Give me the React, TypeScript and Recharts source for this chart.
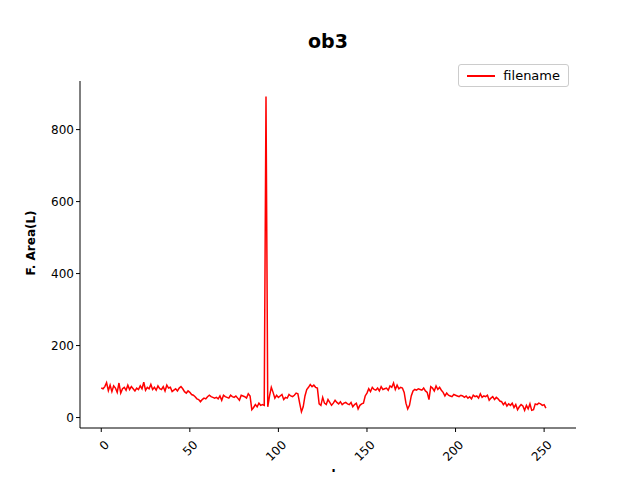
import React from "react";
import { LineChart, Line, XAxis, YAxis, Legend } from "recharts";

const values: number[] = [
  82, 80, 86, 97, 75, 90, 72, 88, 82, 70, 96, 68, 80, 84, 76, 90, 78, 86, 80, 74,
  82, 78, 88, 80, 98, 76, 84, 80, 92, 78, 84, 76, 88, 80, 78, 86, 74, 90, 82, 84,
  72, 76, 80, 74, 82, 86, 80, 72, 68, 74, 70, 64, 62, 58, 52, 50, 44, 50, 54, 52,
  58, 62, 58, 56, 54, 56, 52, 60, 48, 62, 58, 56, 54, 62, 58, 56, 60, 54, 48, 62,
  60, 58, 54, 66, 60, 22, 28, 36, 30, 40, 34, 36, 34, 892, 30, 60, 84, 70, 54, 62,
  56, 60, 64, 50, 56, 54, 64, 60, 58, 62, 68, 66, 40, 16, 30, 60, 78, 84, 92, 86,
  90, 84, 82, 38, 34, 56, 40, 36, 50, 42, 34, 40, 48, 42, 38, 44, 36, 40, 42, 38,
  36, 42, 30, 36, 40, 24, 34, 38, 40, 60, 68, 80, 72, 84, 78, 76, 82, 74, 86, 78,
  80, 82, 76, 88, 84, 96, 78, 90, 80, 84, 82, 70, 40, 24, 34, 60, 74, 78, 76, 80,
  78, 76, 82, 74, 70, 50, 86, 82, 74, 88, 78, 84, 76, 70, 60, 68, 62, 60, 58, 64,
  62, 60, 58, 62, 60, 56, 60, 54, 58, 52, 62, 58, 60, 54, 66, 56, 60, 58, 62, 48,
  54, 58, 50, 56, 52, 46, 44, 36, 42, 32, 38, 34, 40, 28, 36, 22, 30, 36, 32, 20,
  34, 24, 38, 20, 22, 38, 36, 40, 38, 34, 36, 26,
];
const data = values.map((v, i) => ({ x: i, y: v }));
const xTicks = [0, 50, 100, 150, 200, 250];
const yTicks = [0, 200, 400, 600, 800];

const RotTick = (props: any) => {
  const { x, y, payload } = props;
  return (
    <text x={x + 3} y={y + 6} textAnchor="end" fontSize={12} fill="#000"
      transform={`rotate(-45, ${x + 3}, ${y + 6})`} dy={8}>
      {payload.value}
    </text>
  );
};

const LegendBox = () => (
  <div style={{ border: "1px solid #ccc", borderRadius: 3, background: "#fff", padding: "3px 8px", display: "flex", alignItems: "center", fontSize: 13, color: "#000" }}>
    <span style={{ display: "inline-block", width: 28, height: 2, background: "red", marginRight: 8 }} />
    filename
  </div>
);

export default function App() {
  return (
    <div style={{ position: "relative", width: 640, height: 480, margin: -8, background: "#fff", fontFamily: "DejaVu Sans", overflow: "hidden" }}>
      <LineChart width={640} height={480} data={data} margin={{ top: 58, right: 64, bottom: 0, left: 20 }}>
        <XAxis dataKey="x" type="number" domain={[-12, 268]} ticks={xTicks} tick={<RotTick />}
          stroke="#000" tickLine={{ stroke: "#000" }} tickSize={4} height={52} allowDataOverflow />
        <YAxis type="number" domain={[-29, 935]} ticks={yTicks} stroke="#000" tickSize={4}
          tick={{ fill: "#000", fontSize: 12 }} width={60} allowDataOverflow />
        <XAxis xAxisId="top" orientation="top" dataKey="x" type="number" domain={[-12, 268]} tick={false} tickLine={false} stroke="#000" height={0} />
        <YAxis yAxisId="right" orientation="right" tick={false} tickLine={false} stroke="#000" width={0} />
        <Legend verticalAlign="top" align="right" content={<LegendBox />}
          wrapperStyle={{ top: 64, right: 71, left: "auto", width: "auto" }} />
        <Line dataKey="y" stroke="red" strokeWidth={1.5} dot={false} isAnimationActive={false} />
      </LineChart>
      <div style={{ position: "absolute", zIndex: 2, top: 30, left: 80, width: 496, textAlign: "center", fontWeight: "bold", fontSize: 19 }}>ob3</div>
      <div style={{ position: "absolute", zIndex: 2, left: 31, top: 243, transform: "translate(-50%,-50%) rotate(-90deg)", fontWeight: "bold", fontSize: 12, whiteSpace: "nowrap" }}>F. Area(L)</div>
      <div style={{ position: "absolute", zIndex: 2, top: 468, left: 80, width: 496, textAlign: "center", fontWeight: "bold", fontSize: 12 }}>number</div>
    </div>
  );
}
